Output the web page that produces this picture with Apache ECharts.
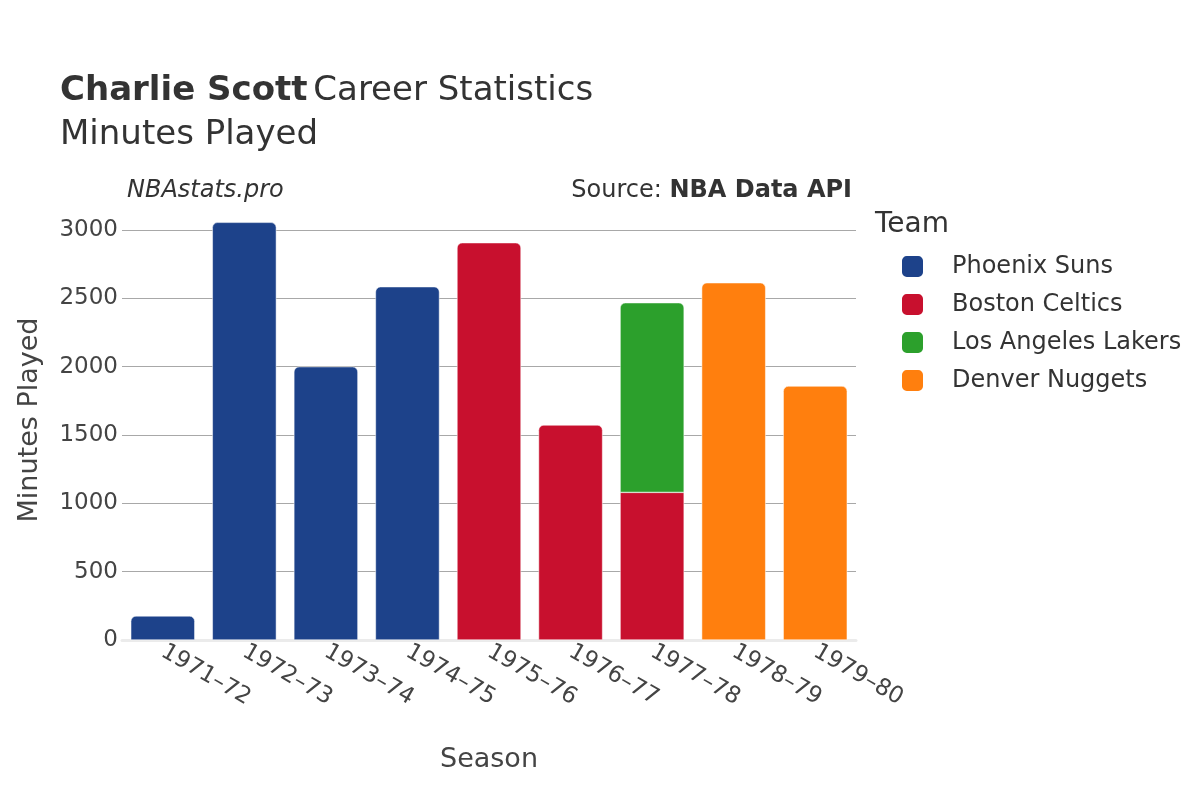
<!DOCTYPE html>
<html>
<head>
<meta charset="utf-8">
<script src="https://cdn.jsdelivr.net/npm/echarts@6/dist/echarts.min.js"></script>
<style>
  html, body { margin: 0; padding: 0; background: #fff; }
  #chart { width: 1200px; height: 800px; }
</style>
</head>
<body>
<div id="chart"></div>
<script>
const seasons = ['1971–72', '1972–73', '1973–74', '1974–75', '1975–76', '1976–77', '1977–78', '1978–79', '1979–80']
const phoenixSuns = [176, 3056, 2000, 2585, null, null, null, null, null]
const bostonCeltics = [null, null, null, null, 2907, 1573, 1080, null, null]
const laLakers = [null, null, null, null, null, null, 1388, null, null]
const denverNuggets = [null, null, null, null, null, null, null, 2614, 1858]
const yTicks = [0, 500, 1000, 1500, 2000, 2500, 3000]

const font = 'DejaVu Sans'
const radius = [5, 5, 0, 0]

// bottom segment of a stacked column keeps square corners
function barData(values, above) {
	return values.map((v, i) => {
		if (v == null) return '-'
		const covered = above && above[i] != null
		return { value: v, itemStyle: { borderRadius: covered ? 0 : radius } }
	})
}

function makeSeries(name, color, values, above) {
	return {
		name: name,
		type: 'bar',
		stack: 'total',
		barWidth: '78.5%',
		clip: false,
		itemStyle: { color: color, borderColor: '#fff', borderWidth: 0.5 },
		emphasis: { disabled: true },
		data: barData(values, above),
	}
}

const myChart = echarts.init(document.getElementById('chart'))

const option = {
	backgroundColor: '#fff',
	animation: false,
	textStyle: { fontFamily: font },
	title: {
		left: 60,
		top: 69,
		padding: 0,
		text: '{b|Charlie Scott} {n|Career Statistics}\n{n|Minutes Played}',
		textStyle: {
			fontWeight: 'normal',
			rich: {
				b: { fontFamily: font, fontSize: 34, fontWeight: 'bold', color: '#333', lineHeight: 44 },
				n: { fontFamily: font, fontSize: 34, fontWeight: 'normal', color: '#333', lineHeight: 44 },
			},
		},
	},
	graphic: [
		{
			type: 'text',
			left: 127,
			top: 179,
			style: { text: 'NBAstats.pro', font: 'italic 24px "DejaVu Sans"', fill: '#333' },
		},
		{
			type: 'text',
			right: 348,
			top: 179,
			style: {
				text: '{n|Source: }{b|NBA Data API}',
				rich: {
					n: { fontFamily: font, fontSize: 24, fill: '#333' },
					b: { fontFamily: font, fontSize: 24, fontWeight: 'bold', fill: '#333' },
				},
			},
		},
		{
			type: 'text',
			left: 875,
			top: 211,
			style: { text: 'Team', font: '28px "DejaVu Sans"', fill: '#333' },
		},
		{
			// y axis title, centred on the plotting area the way the source lays it out
			type: 'text',
			x: 30,
			y: 420,
			rotation: Math.PI / 2,
			style: { text: 'Minutes Played', font: '27px "DejaVu Sans"', fill: '#444', align: 'center', verticalAlign: 'middle' },
		},
	],
	legend: {
		orient: 'vertical',
		left: 900,
		top: 254,
		padding: 0,
		itemWidth: 23,
		itemHeight: 23,
		itemGap: 13,
		icon: 'roundRect',
		selectedMode: false,
		textStyle: { fontFamily: font, fontSize: 24, color: '#333', padding: [0, 0, 0, 23] },
		data: ['Phoenix Suns', 'Boston Celtics', 'Los Angeles Lakers', 'Denver Nuggets'],
	},
	grid: {
		left: 122,
		right: 344,
		top: 230,
		bottom: 160,
	},
	xAxis: {
		type: 'category',
		data: seasons,
		name: 'Season',
		nameLocation: 'middle',
		nameGap: 106,
		nameTextStyle: { fontFamily: font, fontSize: 27, color: '#444' },
		axisLine: { lineStyle: { color: '#ebebeb', width: 3 } },
		axisTick: { show: false },
		axisLabel: { rotate: -30, fontFamily: font, fontSize: 23, color: '#444', margin: 10 },
	},
	yAxis: {
		type: 'value',
		min: yTicks[0],
		max: yTicks[yTicks.length - 1],
		interval: 500,
		axisLine: { show: false },
		axisTick: { show: false },
		axisLabel: { fontFamily: font, fontSize: 23, color: '#444', margin: 4, formatter: (v) => String(v) },
		splitLine: { lineStyle: { color: '#a8a8a8', width: 1 } },
	},
	series: [
		makeSeries('Phoenix Suns', '#1d428a', phoenixSuns),
		makeSeries('Boston Celtics', '#c8102e', bostonCeltics, laLakers),
		makeSeries('Los Angeles Lakers', '#2ca02c', laLakers),
		makeSeries('Denver Nuggets', '#ff7f0e', denverNuggets),
	],
}

myChart.setOption(option)
</script>
</body>
</html>
